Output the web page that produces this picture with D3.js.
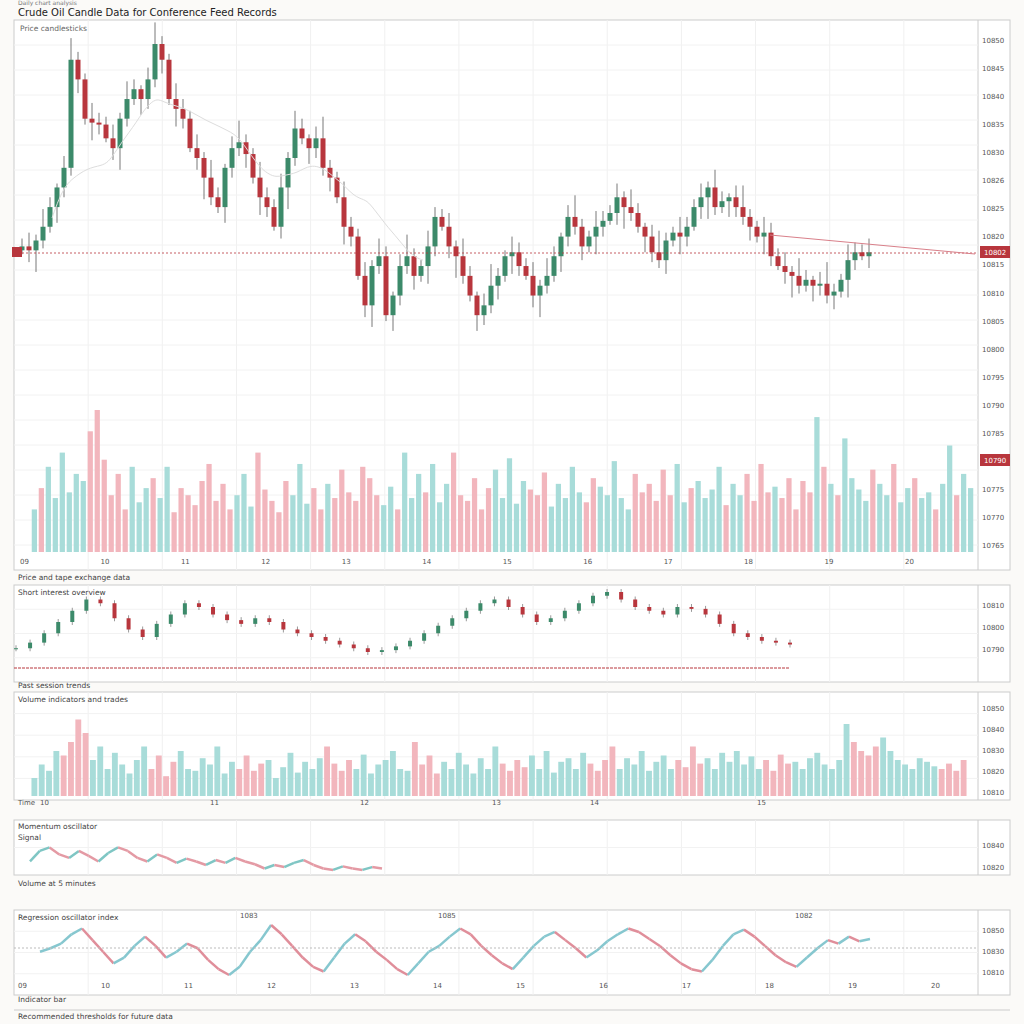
<!DOCTYPE html><html><head><meta charset="utf-8">
<script src="https://cdn.jsdelivr.net/npm/d3@7"></script>
<style>body{margin:0;background:#fbfaf8}svg{font-family:"DejaVu Sans",sans-serif}</style></head><body>
<svg id="c" width="1024" height="1024"></svg>
<script>
const closes=[75,73,78,85,95,105,115,170,160,140,138,137,130,125,140,150,155,150,160,178,170,150,145,140,125,120,110,100,95,115,125,128,122,110,100,95,85,105,120,135,130,125,130,115,110,100,85,80,60,45,65,70,40,50,65,70,60,65,75,90,85,75,70,60,50,40,45,55,60,70,72,65,60,50,55,60,70,80,90,85,75,80,85,88,92,100,95,92,85,80,72,68,78,82,80,85,95,100,105,95,98,100,95,90,85,80,82,70,65,62,60,55,58,55,56,50,52,58,68,72,70,72];
const wicks=[4,7,3,9,5,2,6,11,4,3,8,5];
const vol1=[30,45,60,38,70,42,55,50,85,100,65,40,55,30,60,35,45,52,38,60,28,45,40,33,50,62,36,48,30,40,55,32,70,44,36,28,50,40,62,34,45,30,48,38,58,42,36,60,52,40,33,46,30,70,38,55,42,62,35,48,70,40,36,52,30,45,58,38,66,34,50,44,40,56,32,48,38,60,42,35,52,46,40,64,38,30,55,42,48,36,58,40,62,35,45,50,38,44,60,33,48,40,55,36,62,42,46,38,52,30,50,42,95,60,48,40,80,52,44,36,58,48,40,62,35,45,52,38,42,30,48,75,40,55,45];
const mini=[42,45,50,56,62,68,66,58,52,48,55,60,66,64,60,57,55,58,56,52,50,48,46,44,42,40,41,43,46,50,54,58,62,66,68,64,60,56,58,62,66,70,72,68,64,62,60,64,63,60,55,50,48,46,45,44];
const vol2=[20,35,28,50,45,60,85,70,40,55,30,48,35,25,40,55,30,45,22,38,50,30,28,42,35,55,25,38,30,45,28,36,40,20,32,48,26,38,30,42,55,36,28,40,30,46,25,35,40,50,30,28,60,35,45,25,38,30,48,35,25,42,30,55,36,28,40,32,45,30,50,26,38,42,30,48,36,28,40,55,30,42,35,50,28,38,45,30,40,32,55,36,42,30,48,38,50,35,44,30,40,28,46,36,38,30,42,48,35,30,40,80,60,50,45,55,65,50,40,35,30,42,38,33,30,36,28,40];
const wave4=[40,55,60,50,45,55,48,40,52,60,55,45,40,50,45,38,44,40,35,42,38,45,40,36,30,35,32,38,42,35,30,28,33,30,28,32,30];
const wave5=[55,58,62,70,75,65,55,45,50,60,68,60,50,55,62,58,48,40,35,42,55,65,78,70,60,50,42,38,50,62,70,64,55,48,40,35,45,55,60,68,75,70,60,52,45,40,50,60,68,72,65,58,50,56,64,70,75,72,66,60,52,45,40,38,48,60,70,74,68,60,52,46,42,50,58,65,62,68,64,66];
const axisLabels=["10850","10845","10840","10835","10830","10826","10825","10820","10815","10810","10805","10800","10795","10790","10785","10780","10775","10770","10765"];
const xLabels=["09","10","11","12","13","14","15","16","17","18","19","20"];
const titles=["Crude Oil Candle Data for Conference Feed Records","Price and tape exchange data","Volume indicators and trades","Momentum oscillator","Regression oscillator index"];

const svg=d3.select("#c");
const UP="#3c8a6a",DN="#b8363d",UPL="#a8dcd9",DNL="#f2b6bd";
svg.append("text").attr("x",18).attr("y",5).attr("font-size",6).attr("fill","#777").text("Daily chart analysis");
svg.append("text").attr("x",18).attr("y",16).attr("font-size",10).attr("fill","#222").text(titles[0]);
function panel(y0,y1,nGrid){
  const g=svg.append("g");
  g.append("rect").attr("x",14).attr("y",y0).attr("width",996).attr("height",y1-y0).attr("fill","#fff").attr("stroke","#ccc");
  g.append("line").attr("x1",978).attr("x2",978).attr("y1",y0).attr("y2",y1).attr("stroke","#ccc");
  const xs=d3.scaleLinear().domain([0,13]).range([14,978]);
  for(let i=1;i<13;i++)g.append("line").attr("x1",xs(i)).attr("x2",xs(i)).attr("y1",y0).attr("y2",y1).attr("stroke","#f0f0f0");
  const ys=d3.scaleLinear().domain([0,nGrid]).range([y0,y1]);
  for(let i=1;i<nGrid;i++)g.append("line").attr("x1",14).attr("x2",978).attr("y1",ys(i)).attr("y2",ys(i)).attr("stroke","#f2f2f2");
  return g;
}
const g1=panel(20,570,22);
g1.append("text").attr("x",20).attr("y",31).attr("font-size",7.5).attr("fill","#666").text("Price candlesticks");
const x1=d3.scaleLinear().domain([0,closes.length-1]).range([22,869]);
const y1=d3.scaleLinear().domain([35,177.5]).range([325,45]);
closes.forEach((c,i)=>{const o=i?closes[i-1]:c-2;const w=wicks[i%wicks.length];
 const hi=Math.max(o,c)+w,lo=Math.min(o,c)-wicks[(i+5)%wicks.length];const col=c>=o?UP:DN;
 g1.append("line").attr("x1",x1(i)).attr("x2",x1(i)).attr("y1",y1(hi)).attr("y2",y1(lo)).attr("stroke","#555").attr("stroke-width",0.8);
 g1.append("rect").attr("x",x1(i)-2.5).attr("width",5).attr("y",y1(Math.max(o,c))).attr("height",Math.max(1,Math.abs(y1(o)-y1(c)))).attr("fill",col);});
const ma=closes.map((c,i)=>d3.mean(closes.slice(Math.max(0,i-14),i+1)));
g1.append("path").attr("d",d3.line().x((d,i)=>x1(i)+30).y(d=>y1(d)).curve(d3.curveBasis)(ma.slice(6,60))).attr("fill","none").attr("stroke","#ddd");
g1.append("line").attr("x1",14).attr("x2",978).attr("y1",253).attr("y2",253).attr("stroke",DN).attr("stroke-dasharray","2,2").attr("stroke-width",0.8);
g1.append("line").attr("x1",770).attr("x2",975).attr("y1",235).attr("y2",254).attr("stroke","#d9808a");
g1.append("rect").attr("x",12).attr("y",247).attr("width",10).attr("height",10).attr("fill",DN);
const yl=d3.scaleLinear().domain([0,axisLabels.length-1]).range([40,545]);
axisLabels.forEach((t,i)=>g1.append("text").attr("x",982).attr("y",yl(i)+3).attr("font-size",7).attr("fill","#555").text(t));
g1.append("rect").attr("x",980).attr("y",246).attr("width",30).attr("height",12).attr("fill",DN);
g1.append("text").attr("x",984).attr("y",255).attr("font-size",7).attr("fill","#fff").text("10802");
g1.append("rect").attr("x",980).attr("y",454).attr("width",30).attr("height",12).attr("fill",DN);
g1.append("text").attr("x",984).attr("y",463).attr("font-size",7).attr("fill","#fff").text("10790");
const xv=d3.scaleBand().domain(d3.range(vol1.length)).range([30,975]).padding(0.25);
const yv=d3.scaleLinear().domain([0,100]).range([552,410]);
vol1.forEach((v,i)=>{const up=i<closes.length?(i?closes[i]>=closes[i-1]:true):(i%3!=0);
 g1.append("rect").attr("x",xv(i)).attr("width",xv.bandwidth()).attr("y",yv(v)).attr("height",552-yv(v)).attr("fill",up?UPL:DNL);});
const xt=d3.scaleLinear().domain([0,xLabels.length-1]).range([20,905]);
xLabels.forEach((t,i)=>g1.append("text").attr("x",xt(i)).attr("y",564).attr("font-size",7).attr("fill","#555").text(t));
svg.append("text").attr("x",18).attr("y",580).attr("font-size",7.5).attr("fill","#444").text(titles[1]);
const g2=panel(585,682,4);
g2.append("text").attr("x",18).attr("y",595).attr("font-size",7.5).attr("fill","#444").text("Short interest overview");
const x2=d3.scaleLinear().domain([0,mini.length-1]).range([16,790]);
const y2=d3.scaleLinear().domain([40,72]).range([652,592]);
mini.forEach((c,i)=>{const o=i?mini[i-1]:c;const col=c>=o?UP:DN;
 g2.append("line").attr("x1",x2(i)).attr("x2",x2(i)).attr("y1",y2(Math.max(o,c))-3).attr("y2",y2(Math.min(o,c))+3).attr("stroke","#555").attr("stroke-width",0.6);
 g2.append("rect").attr("x",x2(i)-2).attr("width",4).attr("y",y2(Math.max(o,c))).attr("height",Math.max(1,Math.abs(y2(o)-y2(c)))).attr("fill",col);});
g2.append("line").attr("x1",14).attr("x2",790).attr("y1",668).attr("y2",668).attr("stroke",DN).attr("stroke-dasharray","3,1");
["10810","10800","10790"].forEach((t,i)=>g2.append("text").attr("x",982).attr("y",608+i*22).attr("font-size",7).attr("fill","#555").text(t));
svg.append("text").attr("x",18).attr("y",688).attr("font-size",7.5).attr("fill","#444").text("Past session trends");
const g3=panel(692,800,5);
g3.append("text").attr("x",18).attr("y",702).attr("font-size",7.5).attr("fill","#444").text(titles[2]);
const x3=d3.scaleBand().domain(d3.range(vol2.length)).range([30,968]).padding(0.2);
const y3=d3.scaleLinear().domain([0,90]).range([796,715]);
vol2.forEach((v,i)=>g3.append("rect").attr("x",x3(i)).attr("width",x3.bandwidth()).attr("y",y3(v)).attr("height",796-y3(v)).attr("fill",(Math.floor(i/4)%3==1)?DNL:UPL));
["10850","10840","10830","10820","10810"].forEach((t,i)=>g3.append("text").attr("x",982).attr("y",711+i*21).attr("font-size",7).attr("fill","#555").text(t));
[["Time",18],["10",40],["11",210],["12",360],["13",492],["14",590],["15",757]].forEach(d=>svg.append("text").attr("x",d[1]).attr("y",805).attr("font-size",7).attr("fill","#555").text(d[0]));
const g4=panel(820,875,2);
g4.append("text").attr("x",18).attr("y",829).attr("font-size",7.5).attr("fill","#444").text(titles[3]);
g4.append("text").attr("x",18).attr("y",840).attr("font-size",7.5).attr("fill","#444").text("Signal");
const x4=d3.scaleLinear().domain([0,wave4.length-1]).range([30,382]);
const y4=d3.scaleLinear().domain([25,62]).range([872,846]);
for(let i=1;i<wave4.length;i++)g4.append("line").attr("x1",x4(i-1)).attr("x2",x4(i)).attr("y1",y4(wave4[i-1])).attr("y2",y4(wave4[i])).attr("stroke",wave4[i]>=wave4[i-1]?"#7fc6c4":"#e49aa4").attr("stroke-width",2.5);
["10840","10820"].forEach((t,i)=>g4.append("text").attr("x",982).attr("y",848+i*22).attr("font-size",7).attr("fill","#555").text(t));
svg.append("text").attr("x",18).attr("y",886).attr("font-size",7.5).attr("fill","#444").text("Volume at 5 minutes");
const g5=panel(910,995,4);
g5.append("text").attr("x",18).attr("y",920).attr("font-size",7.5).attr("fill","#444").text(titles[4]);
const x5=d3.scaleLinear().domain([0,wave5.length-1]).range([40,870]);
const y5=d3.scaleLinear().domain([35,78]).range([975,925]);
for(let i=1;i<wave5.length;i++)g5.append("line").attr("x1",x5(i-1)).attr("x2",x5(i)).attr("y1",y5(wave5[i-1])).attr("y2",y5(wave5[i])).attr("stroke",wave5[i]>=wave5[i-1]?"#86c7cf":"#e08e9a").attr("stroke-width",2.5);
g5.append("line").attr("x1",14).attr("x2",978).attr("y1",948).attr("y2",948).attr("stroke","#bbb").attr("stroke-dasharray","2,2");
[["1083",240,918],["1085",438,918],["1082",795,918]].forEach(d=>g5.append("text").attr("x",d[1]).attr("y",d[2]).attr("font-size",7).attr("fill","#555").text(d[0]));
["10850","10830","10810"].forEach((t,i)=>g5.append("text").attr("x",982).attr("y",933+i*21).attr("font-size",7).attr("fill","#555").text(t));
xLabels.forEach((t,i)=>svg.append("text").attr("x",18+i*83).attr("y",988).attr("font-size",7).attr("fill","#555").text(t));
svg.append("text").attr("x",18).attr("y",1002).attr("font-size",7.5).attr("fill","#444").text("Indicator bar");
svg.append("text").attr("x",18).attr("y",1019).attr("font-size",7.5).attr("fill","#444").text("Recommended thresholds for future data");
svg.append("line").attr("x1",14).attr("x2",1010).attr("y1",1010).attr("y2",1010).attr("stroke","#ccc");
</script></body></html>
